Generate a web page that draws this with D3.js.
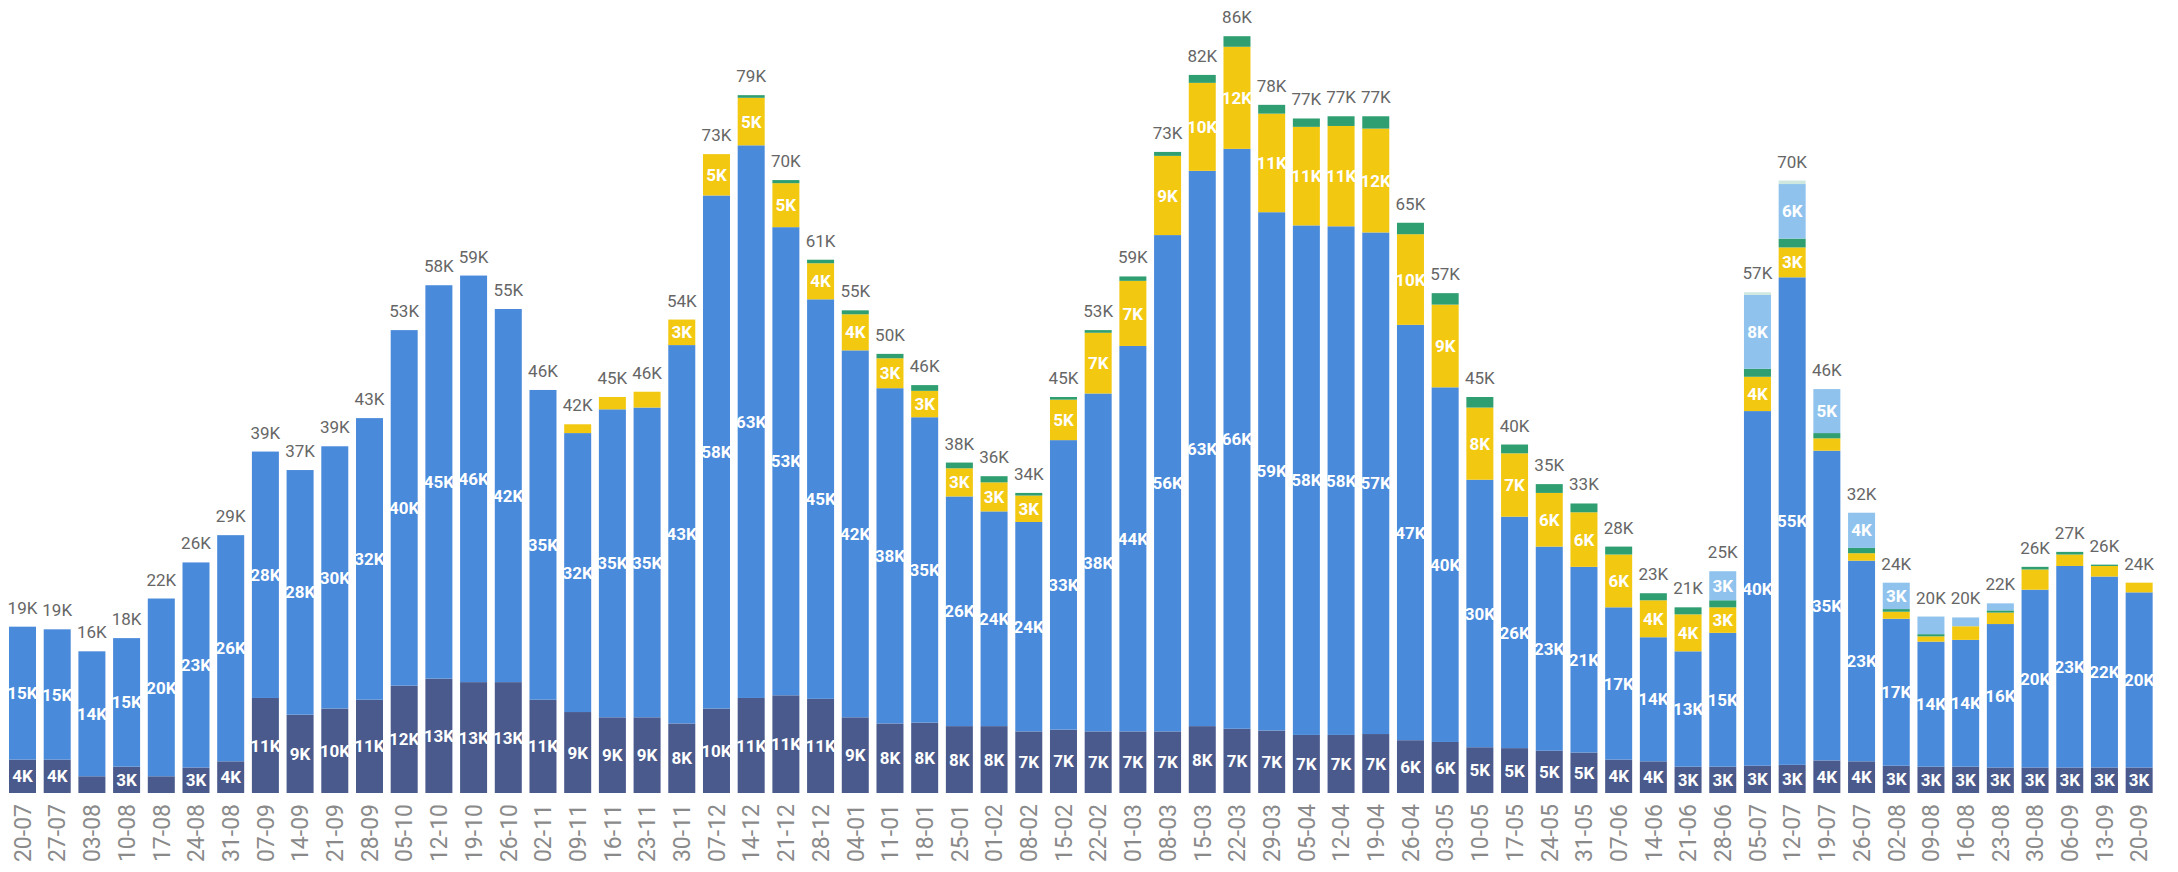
<!DOCTYPE html>
<html>
<head>
<meta charset="utf-8">
<script src="https://cdn.jsdelivr.net/npm/d3@7"></script>
<style>
  html, body { margin: 0; padding: 0; background: #ffffff; }
  svg { display: block; }
</style>
</head>
<body>
<svg id="chart" width="2178" height="872"></svg>
<script>
const weeks = ["20-07","27-07","03-08","10-08","17-08","24-08","31-08","07-09","14-09","21-09","28-09","05-10","12-10","19-10","26-10","02-11","09-11","16-11","23-11","30-11","07-12","14-12","21-12","28-12","04-01","11-01","18-01","25-01","01-02","08-02","15-02","22-02","01-03","08-03","15-03","22-03","29-03","05-04","12-04","19-04","26-04","03-05","10-05","17-05","24-05","31-05","07-06","14-06","21-06","28-06","05-07","12-07","19-07","26-07","02-08","09-08","16-08","23-08","30-08","06-09","13-09","20-09"];

// values in thousands
const navy = [3.8,3.8,1.9,3.0,1.9,2.9,3.6,10.8,8.9,9.6,10.6,12.2,13.0,12.6,12.6,10.6,9.2,8.6,8.6,7.9,9.6,10.8,11.1,10.7,8.6,7.9,8.0,7.6,7.6,7.0,7.2,7.0,7.0,7.0,7.6,7.3,7.1,6.6,6.6,6.7,6.0,5.8,5.2,5.1,4.8,4.6,3.8,3.6,3.0,3.0,3.1,3.2,3.7,3.6,3.1,3.0,3.0,2.9,2.9,2.9,2.9,2.9];
const blue = [15.1,14.8,14.2,14.6,20.2,23.3,25.7,28.0,27.8,29.8,32.0,40.4,44.7,46.2,42.4,35.2,31.7,35.0,35.2,43.0,58.3,62.8,53.2,45.4,41.7,38.1,34.7,26.1,24.4,23.8,32.9,38.4,43.8,56.4,63.1,65.9,58.9,57.9,57.8,57.0,47.2,40.3,30.4,26.3,23.2,21.1,17.3,14.1,13.1,15.2,40.3,55.4,35.2,22.8,16.7,14.2,14.4,16.3,20.2,22.9,21.7,19.9];
const yellow = [0,0,0,0,0,0,0,0,0,0,0,0,0,0,0,0,1.0,1.4,1.8,2.9,4.7,5.4,5.0,4.1,4.1,3.4,3.0,3.2,3.3,3.0,4.6,6.9,7.4,9.0,10.0,11.6,11.2,11.2,11.4,11.8,10.3,9.4,8.2,7.2,6.1,6.2,6.0,4.2,4.2,2.9,3.9,3.4,1.4,0.85,0.8,0.6,1.55,1.3,2.3,1.3,1.2,1.1];
const green = [0,0,0,0,0,0,0,0,0,0,0,0,0,0,0,0,0,0,0,0,0,0.3,0.35,0.4,0.45,0.5,0.65,0.65,0.7,0.3,0.3,0.3,0.5,0.45,0.9,1.2,1.0,0.95,1.1,1.4,1.3,1.3,1.2,1.0,1.0,1.0,0.9,0.8,0.8,0.8,0.9,1.0,0.6,0.6,0.3,0.25,0,0.25,0.3,0.3,0.15,0];
const lightBlue = [0,0,0,0,0,0,0,0,0,0,0,0,0,0,0,0,0,0,0,0,0,0,0,0,0,0,0,0,0,0,0,0,0,0,0,0,0,0,0,0,0,0,0,0,0,0,0,0,0,3.3,8.4,6.2,5.0,4.0,3.0,2.0,1.0,0.8,0,0,0,0];
const pale = [0,0,0,0,0,0,0,0,0,0,0,0,0,0,0,0,0,0,0,0,0,0,0,0,0,0,0,0,0,0,0,0,0,0,0,0,0,0,0,0,0,0,0,0,0,0,0,0,0,0,0.3,0.4,0,0,0,0,0,0,0,0,0,0];

const seriesKeys = ["navy","blue","yellow","green","lightBlue","pale"];
const seriesColors = ["#4a5a8c","#4a8adb","#f2c811","#2f9e70","#8fc3ee","#cfe8df"];

const rows = weeks.map((w, i) => ({
  week: w, navy: navy[i], blue: blue[i], yellow: yellow[i],
  green: green[i], lightBlue: lightBlue[i], pale: pale[i]
}));

const svg = d3.select("#chart");
const baseY = 793;

const x = d3.scaleBand()
  .domain(weeks)
  .range([5.15, 2156.5])
  .paddingInner(0.222)
  .paddingOuter(0.111);

const y = d3.scaleLinear().domain([0, 90]).range([baseY, 1]);

const stack = d3.stack().keys(seriesKeys);
const stacked = stack(rows);

const fmt = v => Math.round(v) + "K";
const FONT = "Roboto, 'DejaVu Sans', sans-serif";

const layers = svg.append("g").selectAll("g")
  .data(stacked)
  .join("g")
  .attr("fill", (d, i) => seriesColors[i]);

layers.selectAll("rect")
  .data(d => d)
  .join("rect")
  .attr("x", d => x(d.data.week))
  .attr("width", x.bandwidth())
  .attr("y", d => y(d[1]))
  .attr("height", d => Math.max(0, y(d[0]) - y(d[1])));

// inner segment labels
const labelG = svg.append("g")
  .attr("font-family", FONT)
  .attr("font-weight", "bold")
  .attr("font-size", 17)
  .attr("fill", "#ffffff")
  .attr("text-anchor", "middle");

stacked.forEach(layer => {
  layer.forEach(d => {
    const v = d[1] - d[0];
    if (v >= 2.5) {
      labelG.append("text")
        .attr("x", x(d.data.week) + x.bandwidth() / 2)
        .attr("y", (y(d[0]) + y(d[1])) / 2)
        .attr("dy", "0.36em")
        .text(fmt(v));
    }
  });
});

// totals above bars
const totals = rows.map(r => seriesKeys.reduce((s, k) => s + r[k], 0));
svg.append("g")
  .attr("font-family", FONT)
  .attr("font-size", 17)
  .attr("fill", "#666666")
  .attr("text-anchor", "middle")
  .selectAll("text")
  .data(rows)
  .join("text")
  .attr("x", d => x(d.week) + x.bandwidth() / 2)
  .attr("y", (d, i) => y(totals[i]) - 13)
  .text((d, i) => fmt(totals[i]));

// x axis
const xAxis = svg.append("g")
  .attr("transform", `translate(0,${baseY})`)
  .call(d3.axisBottom(x).tickSize(0).tickPadding(0));
xAxis.select(".domain").remove();
xAxis.selectAll("text")
  .attr("font-family", FONT)
  .attr("font-size", 23)
  .attr("fill", "#8a8a8a")
  .attr("text-anchor", "end")
  .attr("transform", "rotate(-90)")
  .attr("x", -11)
  .attr("y", 0)
  .attr("dy", "0.36em");
</script>
</body>
</html>
